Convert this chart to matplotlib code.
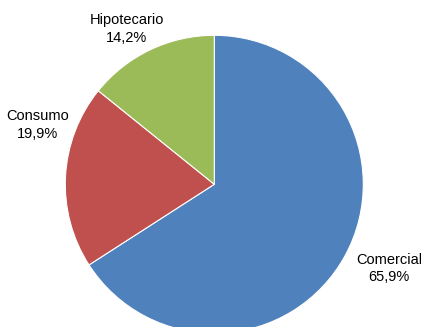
import matplotlib
matplotlib.use('Agg')
import matplotlib.pyplot as plt

# datos de la cartera
categorias = ['Comercial', 'Consumo', 'Hipotecario']
porcentajes = [65.9, 19.9, 14.2]
colores = ['#4F81BD', '#C0504D', '#9BBB59']

plt.rcParams['font.family'] = ['Liberation Sans Narrow', 'Liberation Sans', 'DejaVu Sans']

fig = plt.figure(figsize=(4.21, 3.27), dpi=100)
ax = fig.add_axes([0, 0, 1, 1])
ax.set_xlim(0, 421)
ax.set_ylim(0, 327)
ax.set_aspect('equal')
ax.axis('off')

ax.pie(porcentajes, colors=colores, startangle=90, counterclock=False,
       center=(214.3, 142.7), radius=149,
       wedgeprops={'edgecolor': 'white', 'linewidth': 0.8})
ax.set_xlim(0, 421)
ax.set_ylim(0, 327)

# etiquetas
pos_etiquetas = {'Comercial': (389, 58.5), 'Consumo': (37.7, 202), 'Hipotecario': (126.7, 298)}
for cat, val in zip(categorias, porcentajes):
    x, y = pos_etiquetas[cat]
    txt = f'{cat}\n{val:.1f}%'.replace('.', ',')
    ax.text(x, y, txt, ha='center', va='center', fontsize=10.5,
            linespacing=1.35, color='black')

fig.savefig('out.png', dpi=100)
